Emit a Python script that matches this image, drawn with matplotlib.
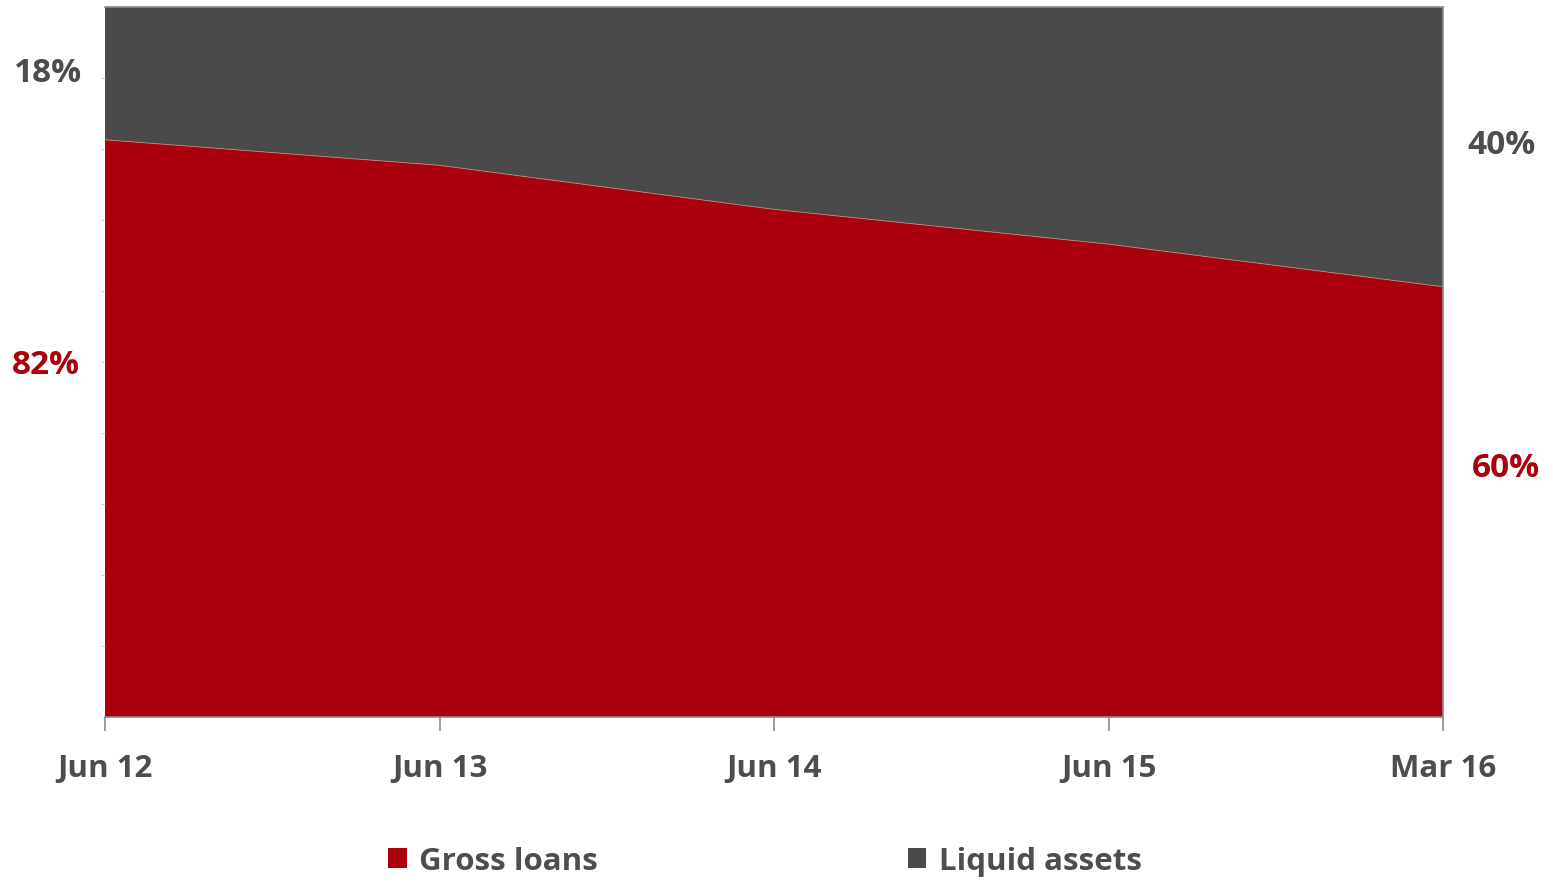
import numpy as np
import matplotlib.pyplot as plt

# data
periods = ['Jun 12', 'Jun 13', 'Jun 14', 'Jun 15', 'Mar 16']
gross_loans = np.array([81.3, 77.7, 71.5, 66.6, 60.6])
liquid_assets = 100 - gross_loans
start_labels = ['82%', '18%']
end_labels = ['60%', '40%']

red = '#ab000d'
dark = '#4a4a4a'
grey_txt = '#4d4d4d'
plt.rcParams['font.family'] = ['Open Sans', 'DejaVu Sans']
plt.rcParams['font.weight'] = 'bold'

fig = plt.figure(figsize=(15.48, 8.87), dpi=100)
ax = fig.add_axes([105 / 1548, 1 - 718 / 887, (1443 - 105) / 1548, (718 - 8) / 887])

x = np.arange(len(periods))
ax.stackplot(x, gross_loans, liquid_assets, colors=[red, dark],
             labels=['Gross loans', 'Liquid assets'], edgecolor='none')
ax.plot(x, gross_loans, color='#c08080', lw=0.6)

ax.set_xlim(0, len(periods) - 1)
ax.set_ylim(0, 100)
ax.set_xticks(x)
ax.set_xticklabels(periods, fontsize=22.5, color=grey_txt, fontweight='bold')
ax.tick_params(axis='x', length=10, color='#8c8c8c', width=1.2, pad=16)
ax.set_yticks(np.arange(10, 100, 10))
ax.tick_params(axis='y', length=3, color='#d0d0d0', labelleft=False)
ax.spines['left'].set_visible(False)
for s in ['top', 'right', 'bottom']:
    ax.spines[s].set_color('#8c8c8c')
    ax.spines[s].set_linewidth(1.2)

# end labels
fig.text(48 / 1548, 1 - 73 / 887, start_labels[1], ha='center', va='center',
         fontsize=24, color=grey_txt, fontweight='bold')
fig.text(46 / 1548, 1 - 366 / 887, start_labels[0], ha='center', va='center',
         fontsize=24, color=red, fontweight='bold')
fig.text(1502 / 1548, 1 - 146 / 887, end_labels[1], ha='center', va='center',
         fontsize=24, color=grey_txt, fontweight='bold')
fig.text(1506 / 1548, 1 - 469 / 887, end_labels[0], ha='center', va='center',
         fontsize=24, color=red, fontweight='bold')

leg = fig.legend(loc='center', bbox_to_anchor=(765 / 1548, 1 - 862 / 887), ncol=2,
                 frameon=False, fontsize=22.5, handlelength=0.6, handleheight=0.6,
                 handletextpad=0.4, columnspacing=9.9)
for t in leg.get_texts():
    t.set_color(grey_txt)

fig.savefig('out.png', dpi=100)
